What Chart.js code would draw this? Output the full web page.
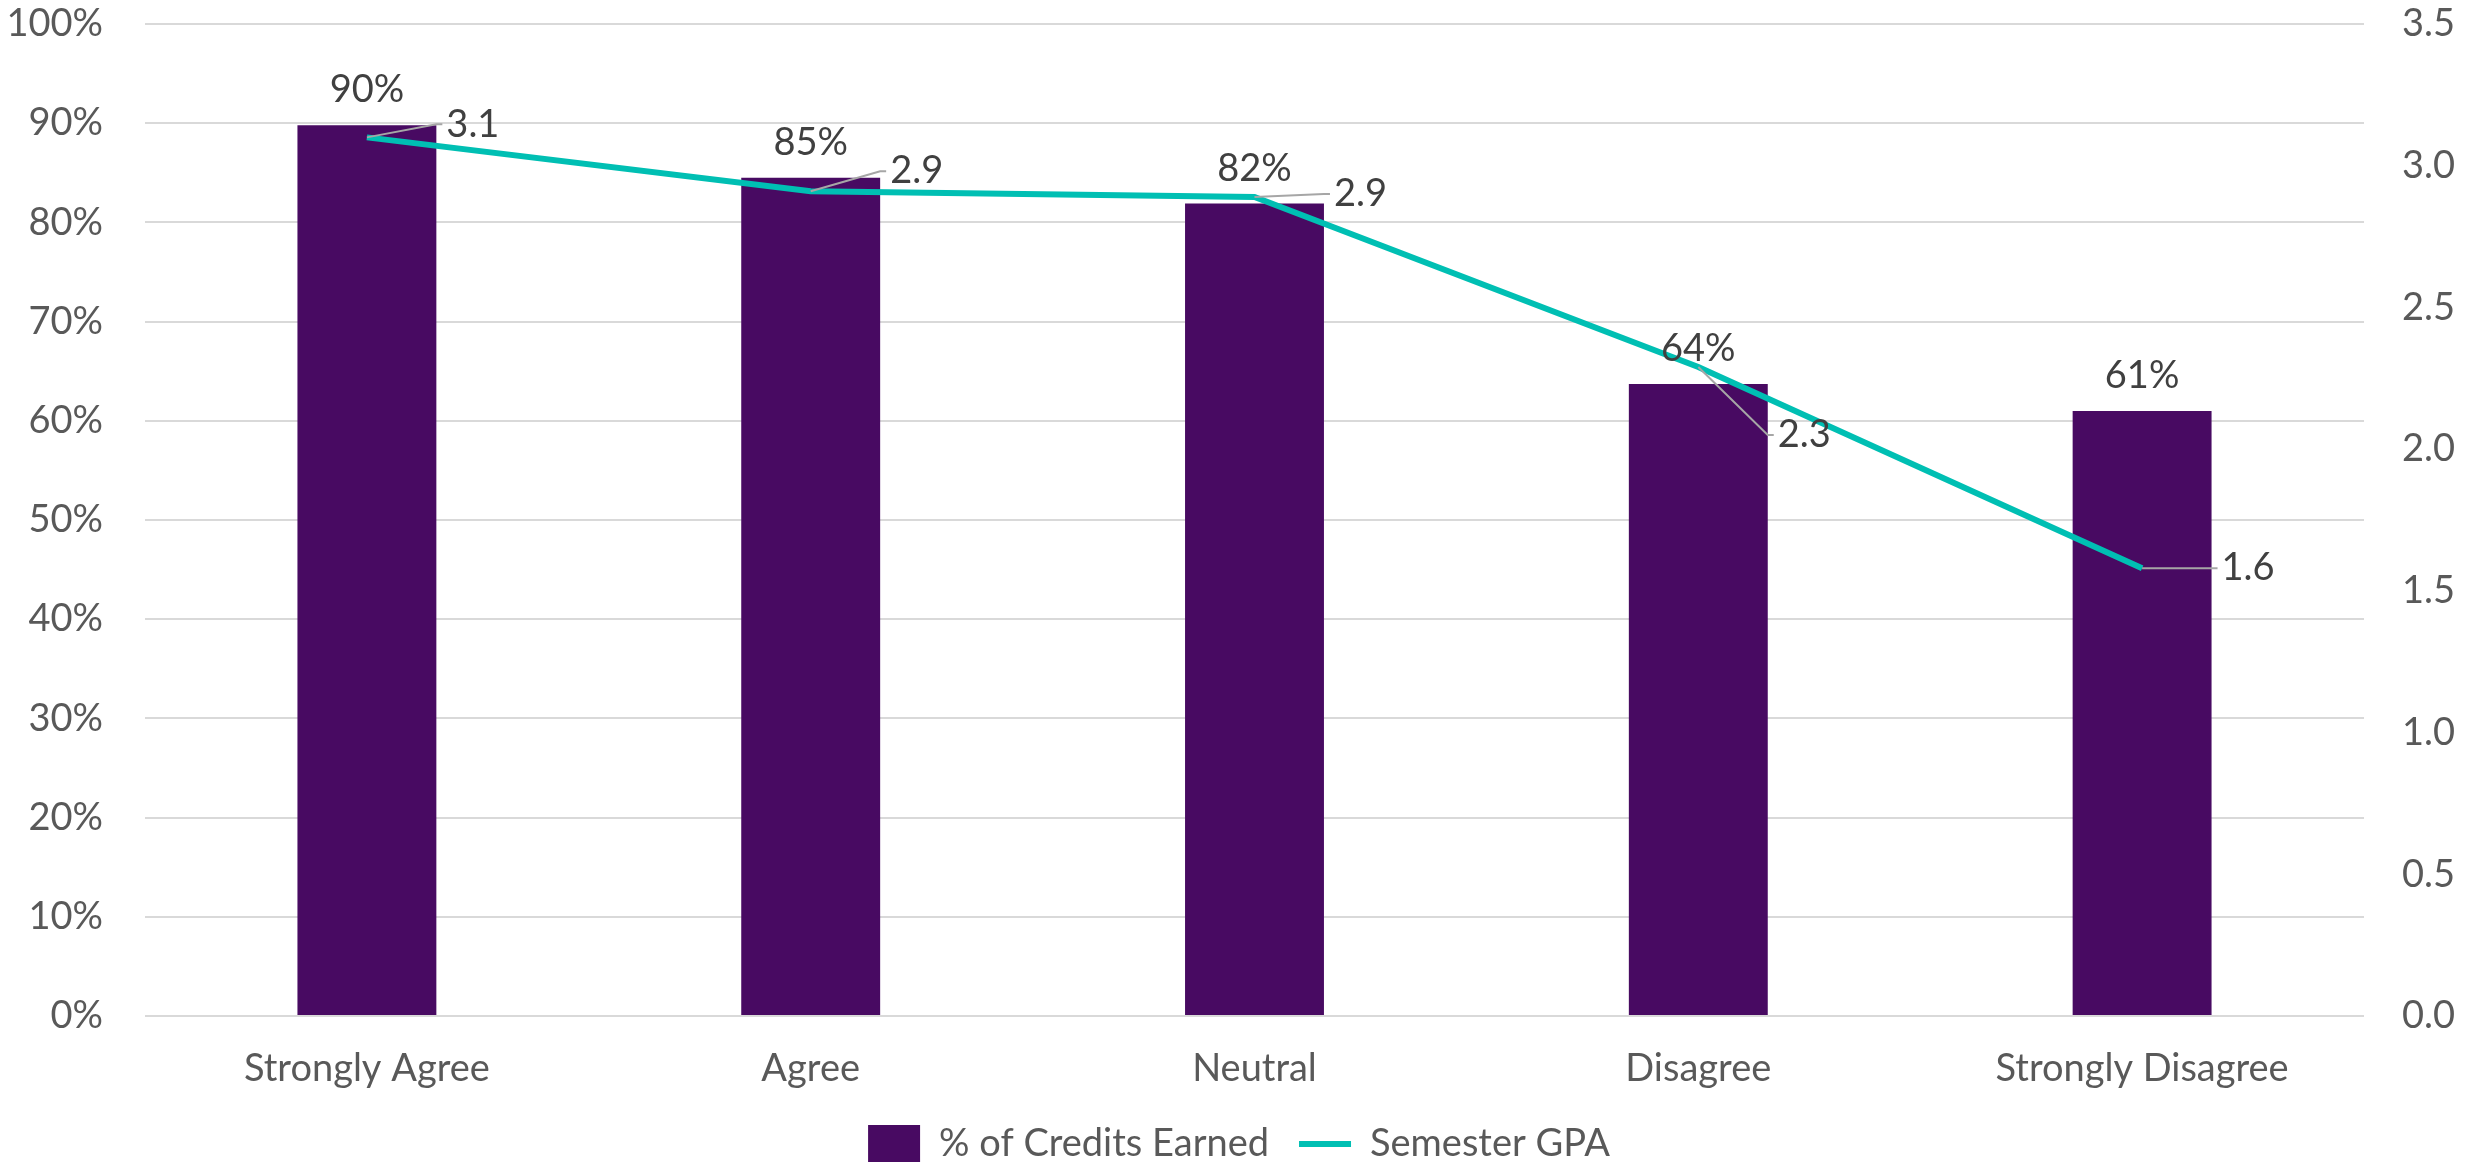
<!DOCTYPE html>
<html>
<head>
<meta charset="utf-8">
<script src="https://cdn.jsdelivr.net/npm/chart.js@4.4.0/dist/chart.umd.min.js"></script>
<style>
  html, body { margin: 0; padding: 0; background: #fff; }
</style>
</head>
<body>
<canvas id="chart" width="2478" height="1162"></canvas>
<script>
const categories = ['Strongly Agree', 'Agree', 'Neutral', 'Disagree', 'Strongly Disagree']
const creditsEarned = [89.8, 84.5, 81.9, 63.7, 61.0]
const semesterGpa = [3.10, 2.91, 2.89, 2.29, 1.58]
const percentTicks = [0, 10, 20, 30, 40, 50, 60, 70, 80, 90, 100]
const gpaTicks = [0, 0.5, 1.0, 1.5, 2.0, 2.5, 3.0, 3.5]

// the GPA labels were dragged around by hand in the original, these are the nudges (px)
const gpaLabelShift = [-13, -20, -3, 68, 0]

const PURPLE = '#480A62'
const TEAL = '#00BFB3'

Chart.defaults.font.family = 'Lato'
Chart.defaults.font.size = 38
Chart.defaults.color = '#595959'

const valueLabels = {
  id: 'valueLabels',
  afterDatasetsDraw(chart) {
    const ctx = chart.ctx
    const bars = chart.getDatasetMeta(0).data
    const pts = chart.getDatasetMeta(1).data
    ctx.save()
    ctx.font = '38px Lato'
    ctx.fillStyle = '#404040'
    ctx.textBaseline = 'middle'
    ctx.textAlign = 'center'
    bars.forEach((bar, i) => {
      ctx.fillText(Math.round(creditsEarned[i]) + '%', bar.x, bar.y - 35)
    })
    ctx.textAlign = 'left'
    ctx.strokeStyle = '#A6A6A6'
    ctx.lineWidth = 2
    pts.forEach((pt, i) => {
      const half = bars[i].width / 2
      const ly = pt.y + gpaLabelShift[i]
      ctx.beginPath()
      ctx.moveTo(pt.x, pt.y)
      ctx.lineTo(pt.x + half, ly)
      ctx.lineTo(pt.x + half + 6, ly)
      ctx.stroke()
      ctx.fillText(semesterGpa[i].toFixed(1), pt.x + half + 10, ly)
    })
    ctx.restore()
  }
}

// y axes: keep the label padding from pushing the plot down
const trimY = w => s => { s.width = w; s.paddingTop = 24; s.paddingBottom = 0 }

new Chart(document.getElementById('chart'), {
  type: 'bar',
  data: {
    labels: categories,
    datasets: [{
      label: '% of Credits Earned',
      data: creditsEarned,
      backgroundColor: PURPLE,
      categoryPercentage: 1,
      barPercentage: 0.313,
      pointStyle: 'rect',
      yAxisID: 'y',
      order: 1
    }, {
      type: 'line',
      label: 'Semester GPA',
      data: semesterGpa,
      borderColor: TEAL,
      backgroundColor: TEAL,
      borderWidth: 6,
      pointRadius: 0,
      pointStyle: 'line',
      tension: 0,
      yAxisID: 'y1',
      order: 0
    }]
  },
  options: {
    responsive: false,
    animation: false,
    devicePixelRatio: 1,
    layout: { padding: { top: 0, bottom: -11 } },
    plugins: {
      tooltip: { enabled: false },
      legend: {
        position: 'bottom',
        labels: {
          usePointStyle: true,
          pointStyleWidth: 52,
          boxWidth: 52,
          boxHeight: 38,
          padding: 30,
          color: '#595959',
          sort: (a, b) => a.datasetIndex - b.datasetIndex
        }
      }
    },
    scales: {
      x: {
        afterFit: s => { s.height = 79 },
        grid: { display: false },
        border: { display: false },
        ticks: { padding: 22 }
      },
      y: {
        position: 'left',
        min: 0,
        max: 100,
        afterBuildTicks: s => { s.ticks = percentTicks.map(v => ({ value: v })) },
        afterFit: trimY(145),
        grid: { color: '#D9D9D9', lineWidth: 2, drawTicks: false },
        border: { display: false },
        ticks: { padding: 42, callback: v => v + '%' }
      },
      y1: {
        position: 'right',
        min: 0,
        max: 3.5,
        afterBuildTicks: s => { s.ticks = gpaTicks.map(v => ({ value: v })) },
        afterFit: trimY(114),
        grid: { display: false, drawTicks: false },
        border: { display: false },
        ticks: { padding: 38, callback: v => v.toFixed(1) }
      }
    }
  },
  plugins: [valueLabels]
})
</script>
</body>
</html>
